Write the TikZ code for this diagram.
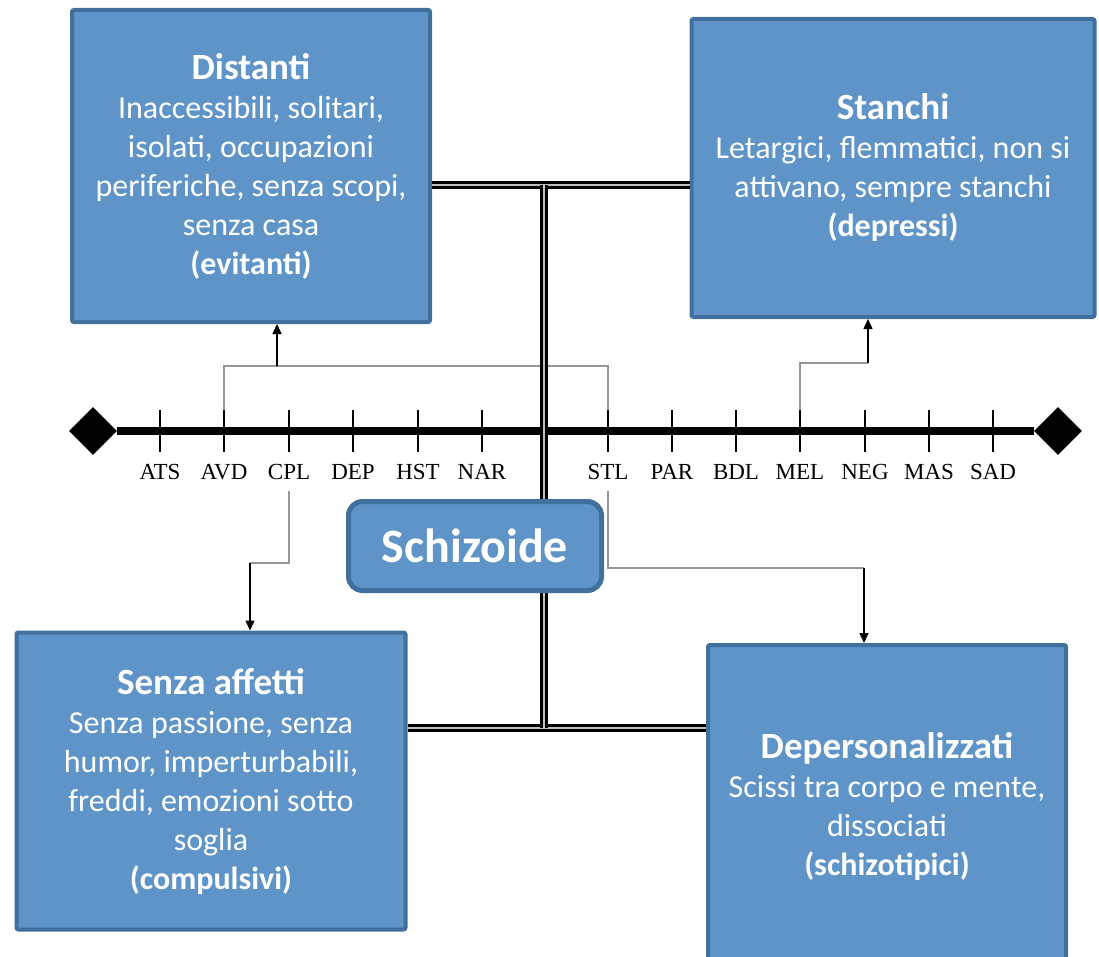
\documentclass[tikz,border=0pt]{standalone}
\usepackage{fontspec}
\setmainfont{Carlito}
\newfontfamily\axisfont{Liberation Serif}
\usepackage{xcolor}
\usetikzlibrary{shapes.geometric, arrows.meta}
\definecolor{boxfill}{RGB}{95,148,200}
\definecolor{boxline}{RGB}{66,112,158}
\definecolor{linkgray}{RGB}{150,150,150}
\newcommand{\boxtitle}[1]{{\fontsize{37}{39}\selectfont\bfseries #1}}

\tikzset{
	catbox/.style={draw=boxline, line width=4pt, fill=boxfill, text=white, align=center,
		font=\fontsize{32}{39}\selectfont, rounded corners=2pt, inner sep=0pt},
	corebox/.style={draw=boxline, line width=5pt, fill=boxfill, text=white, rounded corners=14pt,
		font=\fontsize{48}{48}\selectfont\bfseries, minimum width=253pt, minimum height=89pt},
	endmark/.style={diamond, fill=black, minimum size=48pt, inner sep=0pt},
	axisline/.style={line width=8pt},
	tickmark/.style={line width=1.5pt},
	axislabel/.style={font=\axisfont\fontsize{23}{23}\selectfont, inner xsep=2pt, inner ysep=11pt},
	rail/.style={line width=3pt, double=gray!50, double distance=1.2pt},
	link/.style={draw=linkgray, line width=1.5pt},
	pointer/.style={line width=1.5pt, -{Triangle[length=10pt, width=9pt]}},
}

\begin{document}
\begin{tikzpicture}[x=1pt, y=-1pt]
	\useasboundingbox (0,0) rectangle (1099,957);

	% Axis with end marks
	\node[endmark] (axl) at (93,431) {};
	\node[endmark] (axr) at (1058,431) {};
	\draw[axisline] (axl) -- (axr);

	% Ticks and labels
	\foreach \lab/\x in {ATS/160, AVD/224, CPL/289, DEP/353, HST/418, NAR/482,
		STL/608, PAR/672, BDL/736, MEL/800, NEG/865, MAS/929, SAD/993}
	{
		\coordinate (tk-\lab) at (\x,410);
		\draw[tickmark] (tk-\lab) -- (\x,452);
		\node[axislabel] (lbl-\lab) at (\x,472) {\lab};
	}

	% Boxes around the axis
	\node[catbox, minimum width=358pt, minimum height=312pt] (distanti) at (251,166)
		{\boxtitle{Distanti}\\Inaccessibili, solitari,\\isolati, occupazioni\\periferiche, senza scopi,\\senza casa\\\textbf{(evitanti)}};
	\node[catbox, minimum width=403pt, minimum height=298pt] (stanchi) at (893,168)
		{\boxtitle{Stanchi}\\Letargici, flemmatici, non si\\attivano, sempre stanchi\\\textbf{(depressi)}};
	\node[catbox, minimum width=389pt, minimum height=297pt] (senza) at (211,781)
		{\boxtitle{Senza affetti}\\Senza passione, senza\\humor, imperturbabili,\\freddi, emozioni sotto\\soglia\\\textbf{(compulsivi)}};
	\node[catbox, minimum width=358pt, minimum height=322pt] (depers) at (887,806)
		{\boxtitle{Depersonalizzati}\\Scissi tra corpo e mente,\\dissociati\\\textbf{(schizotipici)}};

	% Links from the axis to the boxes
	\coordinate (jd) at (277,366);
	\draw[link] (tk-AVD) |- (jd) -| (tk-STL);
	\draw[pointer] (jd) -- (jd |- distanti.south);

	\coordinate (js) at (868,363);
	\draw[link] (tk-MEL) |- (js);
	\draw[pointer] (js) -- (js |- stanchi.south);

	\coordinate (ja) at (250,563);
	\draw[link] (lbl-CPL.south) |- (ja);
	\draw[pointer] (ja) -- (ja |- senza.north);

	\coordinate (jp) at (864,568);
	\draw[link] (lbl-STL.south) |- (jp);
	\draw[pointer] (jp) -- (jp |- depers.north);

	% Double rails
	\coordinate (hub-top) at (544,185);
	\coordinate (hub-bot) at (544,728);
	\draw[rail] (distanti.east |- hub-top) -- (stanchi.west |- hub-top);
	\draw[rail] (senza.east |- hub-bot) -- (depers.west |- hub-bot);
	\draw[rail] (hub-top) -- (hub-bot);

	% Centre
	\node[corebox] (schizoide) at (475,546) {Schizoide};
\end{tikzpicture}
\end{document}
